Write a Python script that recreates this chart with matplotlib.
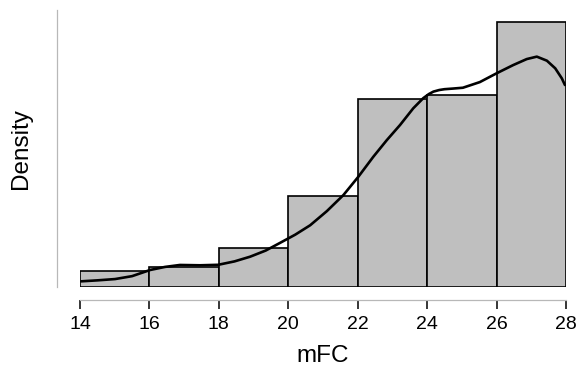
import numpy as np
import matplotlib
matplotlib.use("Agg")
import matplotlib.pyplot as plt

plt.rcParams["font.family"] = ["Liberation Sans", "DejaVu Sans"]

# histogram bins and densities (bin width 2)
bin_edges = [14, 16, 18, 20, 22, 24, 26, 28]
bin_density = [0.0093, 0.0123, 0.0240, 0.0560, 0.1160, 0.1185, 0.1630]

# kernel density estimate
kde_x = [14.03, 14.5, 15.01, 15.5, 16.02, 16.45, 16.88, 17.46, 17.98, 18.45,
         18.9, 19.35, 19.76, 20.2, 20.63, 21.11, 21.59, 22.02, 22.45, 22.84,
         23.22, 23.60, 23.89, 24.05, 24.18, 24.35, 24.5, 24.75, 25.03, 25.52,
         26.0, 26.48, 26.87, 27.16, 27.45, 27.69, 27.88, 27.97]
kde_y = [0.0032, 0.0038, 0.0046, 0.0064, 0.0102, 0.0121, 0.0133, 0.0131, 0.0134, 0.0155,
         0.0184, 0.0222, 0.0269, 0.0320, 0.0378, 0.0465, 0.0565, 0.0678, 0.0801, 0.0904,
         0.0997, 0.1100, 0.1163, 0.1188, 0.1203, 0.1213, 0.1218, 0.1222, 0.1227, 0.1262,
         0.1316, 0.1367, 0.1404, 0.1419, 0.1394, 0.1347, 0.1285, 0.1244]

xticks = [14, 16, 18, 20, 22, 24, 26, 28]

fig = plt.figure(figsize=(5.78, 3.81), dpi=100)
ax = fig.add_axes([0.1384, 0.248, 0.8408, 0.7258])

ax.hist(bin_edges[:-1], bins=bin_edges, weights=bin_density,
        color="#bfbfbf", edgecolor="black", linewidth=1.2)
ax.plot(kde_x, kde_y, color="black", linewidth=1.9, solid_capstyle="round",
        solid_joinstyle="round")

ax.set_xlim(14, 28)
ax.set_ylim(0, 0.1707)

for s in ["top", "right"]:
    ax.spines[s].set_visible(False)
ax.spines["left"].set_position(("outward", 16.5))
ax.spines["bottom"].set_position(("outward", 9.7))
ax.spines["bottom"].set_bounds(14, 28)
for s in ["left", "bottom"]:
    ax.spines[s].set_color("#b8b8b8")
    ax.spines[s].set_linewidth(0.9)

ax.set_yticks([])
ax.set_xticks(xticks)
ax.tick_params(axis="x", length=6.5, width=1.1, color="black",
               labelsize=14, pad=5)

ax.set_xlabel("mFC", fontsize=17.5, labelpad=9)
ax.set_ylabel("Density", fontsize=17.5)
ax.yaxis.set_label_coords(-0.099, 0.5)

fig.savefig("out.png", dpi=100)
